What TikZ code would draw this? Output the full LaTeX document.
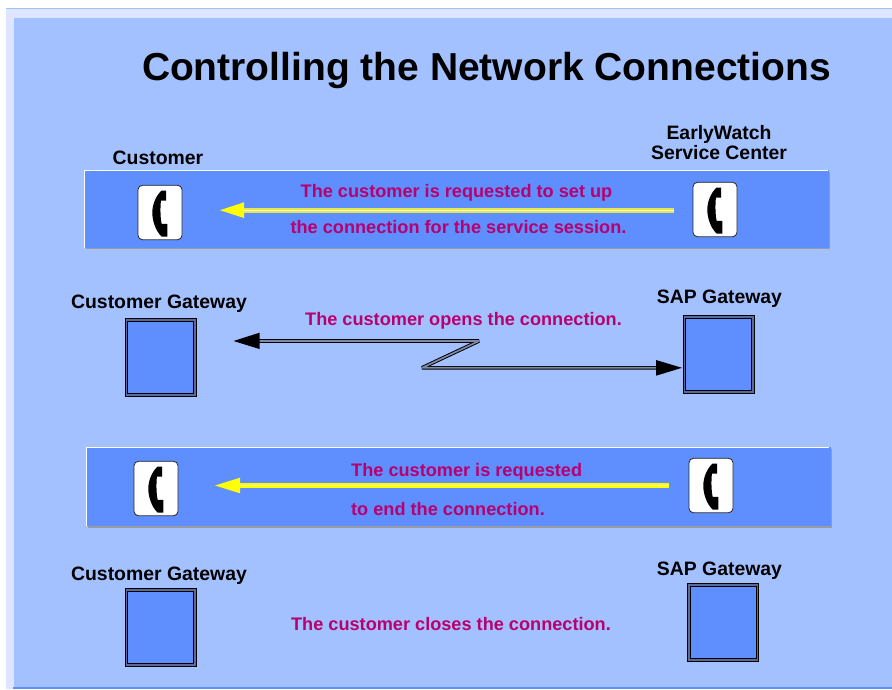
\documentclass[tikz,border=0pt]{standalone}
\usepackage{fontspec}
\setmainfont{Liberation Sans}
\usetikzlibrary{calc}
\definecolor{bgblue}{HTML}{A3C1FF}
\definecolor{paleblue}{HTML}{DDE5FF}
\definecolor{bandblue}{HTML}{5F8EFF}
\definecolor{magtext}{HTML}{B8006E}
\definecolor{tipyellow}{HTML}{FFFF00}
\definecolor{paleshaft}{HTML}{E4E850}
\definecolor{shadowgray}{HTML}{9A9AA6}
\definecolor{gaterim}{HTML}{5A6A9A}
\definecolor{shaftgray}{HTML}{7F88A4}
\tikzset{
  x=1pt,y=-1pt,
  title/.style={font=\bfseries\fontsize{39}{44}\selectfont,anchor=center,inner sep=0pt},
  heading/.style={font=\bfseries\fontsize{19.4}{20}\selectfont,align=center,inner sep=0pt},
  message/.style={font=\bfseries\fontsize{18.15}{20}\selectfont,text=magtext,inner sep=0pt},
  gateouter/.style={draw=black,fill=gaterim,line width=0.8pt,minimum width=71pt,minimum height=78pt,inner sep=0pt},
  gateinner/.style={draw=black,fill=bandblue,line width=0.8pt,minimum width=66pt,minimum height=72pt,inner sep=0pt},
  phonebox/.style={draw=black!85,fill=white,rounded corners=4.5pt,line width=0.8pt,inner sep=0pt,minimum width=44pt,minimum height=54.5pt},
  bandshadow/.style={fill=shadowgray},
  bandfill/.style={fill=bandblue},
  bandedge/.style={draw=white,line width=1pt},
  yellowshaft/.style={draw=tipyellow,line width=4.4pt},
  yellowcore/.style={draw=white!50!tipyellow,line width=1pt},
  paleyellowshaft/.style={draw=paleshaft,line width=4.2pt},
  paleyellowcore/.style={draw=white!75!tipyellow,line width=1.2pt},
  arrowhead/.style={fill=tipyellow},
  blackhead/.style={fill=black},
  zigouter/.style={draw=black,line width=3.6pt,line join=bevel},
  ziginner/.style={draw=shaftgray,line width=1.7pt,line join=bevel},
}
\newcommand{\gateway}[3]{%
  \node[gateouter] (#1) at (#2,#3) {};
  \node[gateinner] (#1i) at (#2,#3) {};
}
\newcommand{\phone}[3]{%
  \node[phonebox] (#1) at (#2,#3) {};
  \fill[black] ($(#1)+(1.7,-22)$) .. controls ($(#1)+(-4,-17)$) and ($(#1)+(-7.7,-8)$) .. ($(#1)+(-7.7,0)$)
     .. controls ($(#1)+(-7.7,9)$) and ($(#1)+(-4,19)$) .. ($(#1)+(1.7,24)$) -- ($(#1)+(7.3,24)$) -- ($(#1)+(7.3,11.3)$) -- ($(#1)+(1.7,11.3)$)
     .. controls ($(#1)+(0.2,6)$) and ($(#1)+(0.2,-7)$) .. ($(#1)+(1,-12)$) -- ($(#1)+(6,-12)$) -- ($(#1)+(6,-22)$) -- cycle;
}
\begin{document}
\begin{tikzpicture}
\useasboundingbox (0,0) rectangle (892,689);
\fill[white] (0,0) rectangle (892,689);
\fill[paleblue] (6,9) rectangle (892,689);
\fill[bgblue] (14,18) rectangle (892,689);
\fill[bgblue] (6,8) rectangle (892,9);
\fill[bandblue] (13,687.3) rectangle (892,689);

\node[title] (t) at (486.5,70.5) {Controlling the Network Connections};

\node[heading] (c1) at (158,158) {Customer};
\node[heading] (e1) at (719,143) {EarlyWatch\\Service Center};
\node[heading] (g1) at (159,304) {Customer Gateway};
\node[heading] (s1) at (719.5,299) {SAP Gateway};
\node[heading] (g2) at (159,576) {Customer Gateway};
\node[heading] (s2) at (719.5,571) {SAP Gateway};

% band 1
\fill[bandshadow] (86,172) rectangle (830,249.2);
\fill[bandfill] (85,170) rectangle (829,248.2);
\draw[bandedge] (84.8,248.2) -- (84.8,170.4) -- (828,170.4);
% band 2
\fill[bandshadow] (88,449) rectangle (832,527.6);
\fill[bandfill] (86.5,447) rectangle (830.5,526);
\draw[bandedge] (86.8,525.5) -- (86.8,447.4) -- (829,447.4);

\phone{p1}{160}{212.5}
\phone{p2}{715}{209.5}
\phone{p3}{156}{488.5}
\phone{p4}{711}{485.5}

\coordinate (a1s) at (674,210.5);
\coordinate (a1e) at (243,210.5);
\draw[paleyellowshaft] (a1s) -- (a1e);
\draw[paleyellowcore] (a1s) -- (a1e);
\fill[arrowhead] (220,210.2) -- (244,202.3) -- (244,218) -- cycle;

\coordinate (a2s) at (669,485.5);
\coordinate (a2e) at (239,485.5);
\draw[yellowshaft] (a2s) -- (a2e);
\draw[yellowcore] (a2s) -- (a2e);
\fill[arrowhead] (215,485.5) -- (240,477.7) -- (240,493.3) -- cycle;

\node[message] (m1) at (456.5,193) {The customer is requested to set up};
\node[message] (m2) at (458.5,227) {the connection for the service session.};
\node[message] (m3) at (463.5,321) {The customer opens the connection.};
\node[message,anchor=west] (m4) at (351,472) {The customer is requested};
\node[message,anchor=west] (m5) at (351,509) {to end the connection.};
\node[message] (m6) at (451,624) {The customer closes the connection.};

\gateway{b1}{160.7}{357.8}
\gateway{b2}{718.5}{354.3}
\gateway{b3}{160.7}{627.7}
\gateway{b4}{723}{622.7}

\coordinate (z0) at (258,341);
\coordinate (z1) at (479,341);
\coordinate (z2) at (422,367.8);
\coordinate (z3) at (657,367.8);
\draw[zigouter] (z0) -- (z1) -- (z2) -- (z3);
\draw[ziginner] (z0) -- (z1) -- (z2) -- (z3);
\fill[blackhead] (233.5,341) -- (259.5,332.7) -- (259.5,349) -- cycle;
\fill[blackhead] (682,367.8) -- (656,360) -- (656,375.7) -- cycle;
\end{tikzpicture}
\end{document}
